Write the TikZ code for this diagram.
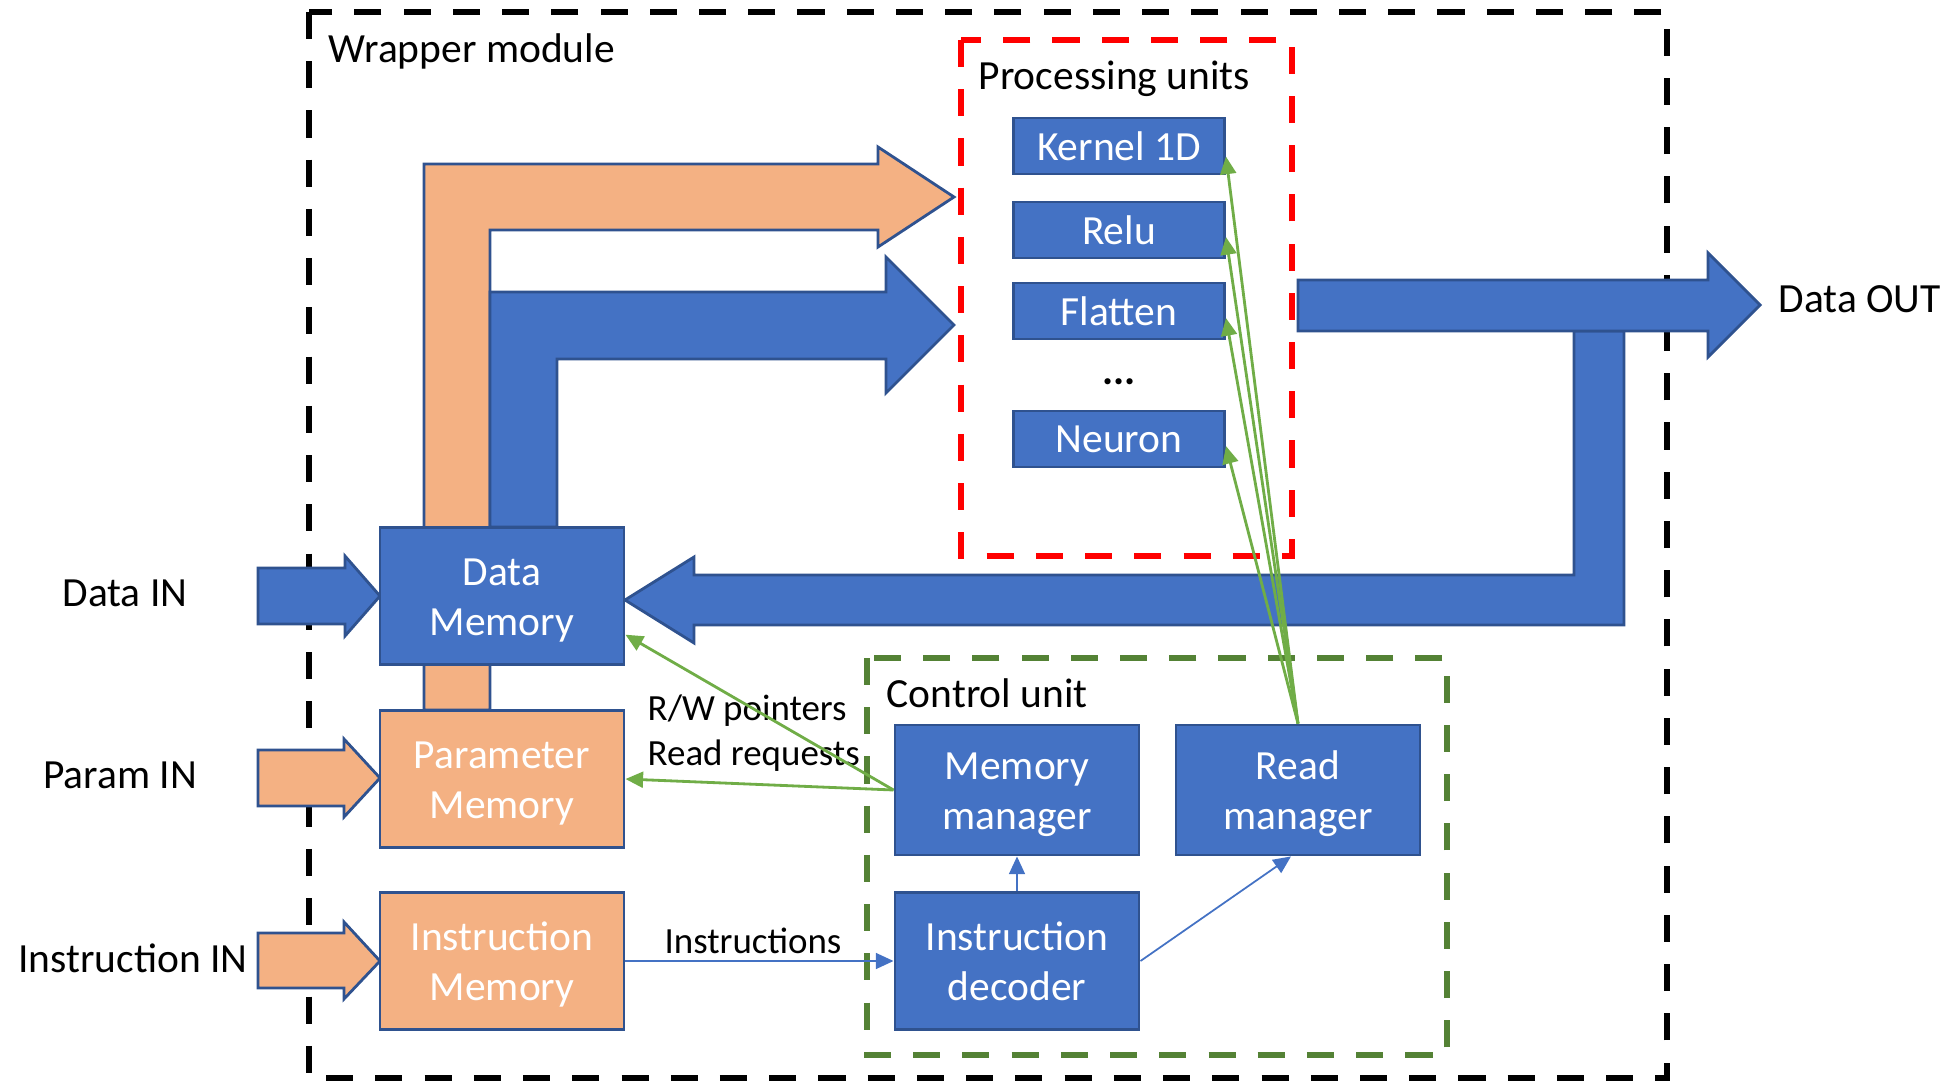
\documentclass[tikz,border=0pt]{standalone}
\usepackage{fontspec}
\setmainfont{Carlito}
\usetikzlibrary{arrows.meta}
\definecolor{boxblue}{HTML}{4472C4}
\definecolor{boxedge}{HTML}{2F528F}
\definecolor{parorange}{HTML}{F4B183}
\definecolor{selgreen}{HTML}{70AD47}
\definecolor{cugreen}{HTML}{548235}
\definecolor{pured}{HTML}{FF0000}
\newcommand{\boxtop}{\rule{0pt}{10.6pt}}

\begin{document}
\begin{tikzpicture}[x=0.01cm,y=-0.01cm,
    txt/.style={inner sep=0pt,font=\fontsize{11.8}{14.2}\selectfont},
    note/.style={inner sep=0pt,font=\fontsize{10.5}{12.6}\selectfont},
    blk/.style={txt,draw=boxedge,line width=0.8pt,fill=boxblue,text=white,align=center},
    pubox/.style={blk,minimum width=2.11cm,minimum height=0.56cm},
    twoline/.style={execute at end node={\rule[-2.4pt]{0pt}{2.4pt}}},
    membox/.style={blk,twoline,minimum width=2.44cm,minimum height=1.37cm},
    mgrbox/.style={blk,twoline,minimum width=2.44cm,minimum height=1.30cm},
    flow/.style={draw=boxedge,line width=0.8pt,line join=miter},
    wrapline/.style={line width=1.9pt,dash pattern=on 7.7pt off 6.3pt},
    selline/.style={selgreen,line width=0.8pt,-{Triangle[length=5pt,width=4.5pt]}},
    cmdline/.style={boxblue,line width=0.5pt,-{Triangle[length=5pt,width=4.5pt]}}]
\useasboundingbox (0,0) rectangle (1954,1082);

\draw[wrapline] (309,12) rectangle (1667,1078);
\draw[wrapline,pured] (961,40) rectangle (1292,556);
\draw[wrapline,cugreen] (867,658) rectangle (1447,1055);

\node[txt,anchor=west] (twrap) at (328,51) {Wrapper module};
\node[txt,anchor=west] (tpu) at (978,79) {Processing units};
\node[txt,anchor=west] (tcu) at (886,693) {Control unit};

\path[flow,fill=parorange] (424,710) -- (424,164) -- (878,164) -- (878,147) -- (954,197)
  -- (878,247) -- (878,230) -- (490,230) -- (490,710) -- cycle;
\path[flow,fill=boxblue] (490,527) -- (490,292) -- (886,292) -- (886,257) -- (954,325)
  -- (886,393) -- (886,359) -- (557,359) -- (557,527) -- cycle;
\path[flow,fill=boxblue] (1574,331) -- (1624,331) -- (1624,625) -- (694,625) -- (694,643)
  -- (625,600) -- (694,557) -- (694,575) -- (1574,575) -- cycle;
\path[flow,fill=boxblue] (1298,280) -- (1708,280) -- (1708,253) -- (1760,305)
  -- (1708,357) -- (1708,331) -- (1298,331) -- cycle;

\path[flow,fill=boxblue] (258,568) -- (345,568) -- (345,556) -- (380,596)
  -- (345,636) -- (345,624) -- (258,624) -- cycle;
\path[flow,fill=parorange] (258,750) -- (344,750) -- (344,739) -- (380,778)
  -- (344,817) -- (344,806) -- (258,806) -- cycle;
\path[flow,fill=parorange] (258,933) -- (344,933) -- (344,922) -- (380,961)
  -- (344,999) -- (344,988) -- (258,988) -- cycle;

\node[txt] (tdin) at (125,593) {Data IN};
\node[txt] (tpin) at (120,775) {Param IN};
\node[txt] (tiin) at (133,958) {Instruction IN};
\node[txt,anchor=west] (tdout) at (1778,299) {Data OUT};

\node[membox] (dmem) at (502,596) {\boxtop Data\\Memory};
\node[membox,fill=parorange] (pmem) at (502,779) {\boxtop Parameter\\Memory};
\node[membox,fill=parorange] (imem) at (502,961) {\boxtop Instruction\\Memory};

\node[pubox] (k1d) at (1119,146) {Kernel 1D};
\node[pubox] (relu) at (1119,230) {Relu};
\node[pubox] (flat) at (1119,311) {Flatten};
\node[txt] (dots) at (1119,382) {\textbf{...}};
\node[pubox] (neur) at (1119,439) {Neuron};

\node[mgrbox] (mmgr) at (1017,790) {\boxtop Memory\\manager};
\node[mgrbox] (rmgr) at (1298,790) {\boxtop Read\\manager};
\node[membox] (idec) at (1017,961) {\boxtop Instruction\\decoder};

\node[note,anchor=west] (trw) at (647,711) {R/W pointers};
\node[note,anchor=west] (trr) at (647,756) {Read requests};
\node[note] (tins) at (753,941) {Instructions};

\path[selline]
  (rmgr.north) edge ([yshift=-3pt]k1d.east)
  (rmgr.north) edge ([yshift=-2pt]relu.east)
  (rmgr.north) edge ([yshift=-2pt]flat.east)
  (rmgr.north) edge ([yshift=-2pt]neur.east)
  (mmgr.west) edge ([yshift=-11pt]dmem.east)
  (mmgr.west) edge (pmem.east);

\path[cmdline]
  (imem.east) edge (idec.west)
  (idec.north) edge (mmgr.south)
  (idec.east) edge ([xshift=-2pt]rmgr.south);
\end{tikzpicture}
\end{document}
